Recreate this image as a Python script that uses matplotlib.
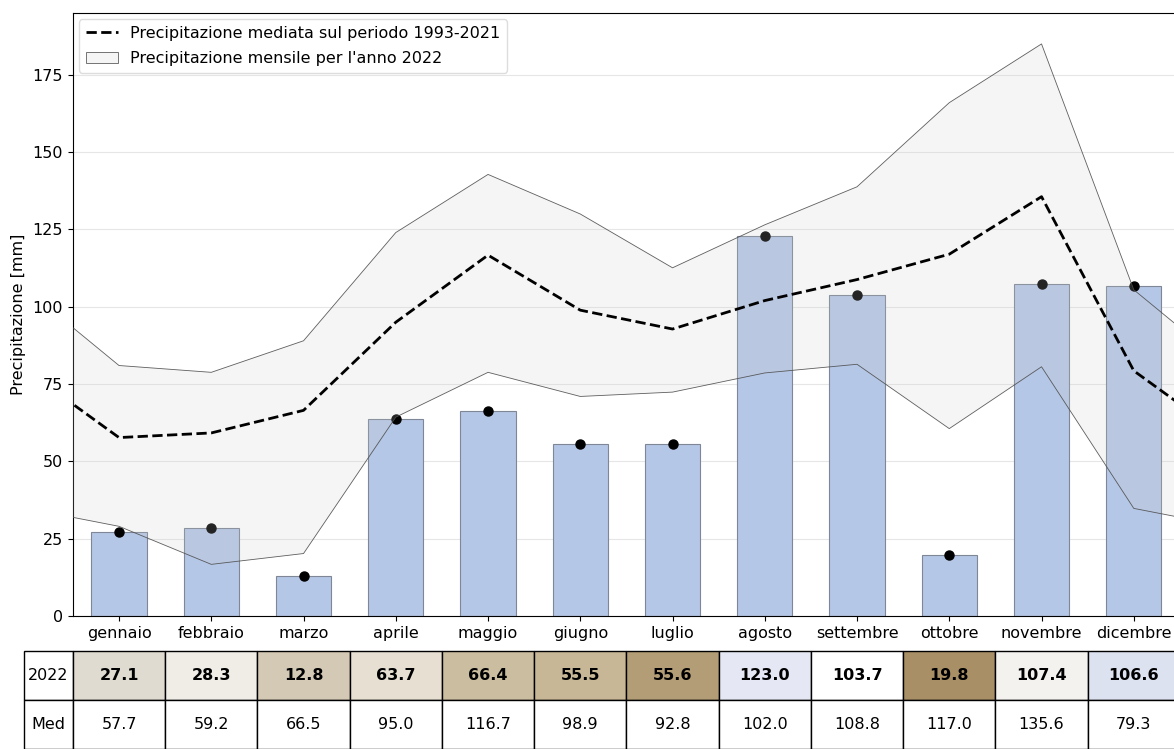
import matplotlib
matplotlib.use("Agg")
import matplotlib.pyplot as plt
from matplotlib.table import Table
import numpy as np

months = ["gennaio", "febbraio", "marzo", "aprile", "maggio", "giugno",
          "luglio", "agosto", "settembre", "ottobre", "novembre", "dicembre"]
prec_2022 = [27.1, 28.3, 12.8, 63.7, 66.4, 55.5, 55.6, 123.0, 103.7, 19.8, 107.4, 106.6]
prec_mean = [57.7, 59.2, 66.5, 95.0, 116.7, 98.9, 92.8, 102.0, 108.8, 117.0, 135.6, 79.3]
prec_upper = [81.0, 78.8, 89.0, 124.0, 142.8, 130.0, 112.6, 126.5, 138.8, 166.0, 185.0, 105.5]
prec_lower = [29.0, 16.7, 20.2, 64.3, 78.8, 71.0, 72.4, 78.6, 81.4, 60.6, 80.6, 34.8]
row_labels = ["2022", "Med"]
cell_colors_2022 = ["#e0dbd0", "#f0ede7", "#d4c9b5", "#e6dfd2", "#cbbd9f", "#c8b796",
                    "#b29d76", "#e5e8f4", "#ffffff", "#a98f66", "#f4f2ef", "#dde2f0"]

plt.rcParams["font.size"] = 11.5

x = np.arange(len(months))
# cyclic extension: December before January, January after December
xc = np.concatenate([[-1], x, [12]])
def wrap(v):
    v = np.asarray(v)
    return np.concatenate([[v[-1]], v, [v[0]]])

fig = plt.figure(figsize=(11.74, 7.49), dpi=100)
ax = fig.add_axes([72.9 / 1174, (749 - 616) / 749, 1107 / 1174, (616 - 13) / 749])

ax.yaxis.grid(True, color="#e6e6e6", lw=0.8)
ax.set_axisbelow(True)

ax.bar(x, prec_2022, width=0.6, color="#b5c7e6", edgecolor="#7f8796", lw=0.8, zorder=2)
ax.plot(x, prec_2022, "o", color="black", ms=6.5, zorder=3)
band = ax.fill_between(xc, wrap(prec_lower), wrap(prec_upper),
                       facecolor=(0.8, 0.8, 0.8, 0.18), edgecolor=(0.3, 0.3, 0.3, 0.9),
                       lw=0.6, zorder=4, label="Precipitazione mensile per l'anno 2022")
mline, = ax.plot(xc, wrap(prec_mean), "--", color="black", lw=2, zorder=5,
                 label="Precipitazione mediata sul periodo 1993-2021")

ax.set_xlim(-0.5, 11.5)
ax.set_ylim(0, 195)
ax.set_yticks([0, 25, 50, 75, 100, 125, 150, 175])
ax.set_xticks(x)
ax.set_xticklabels(months)
ax.tick_params(labelsize=11.5)
ax.set_ylabel("Precipitazione [mm]", fontsize=11.5)
ax.yaxis.set_label_coords(-0.042, 0.5)

leg = ax.legend(handles=[mline, band], loc="upper left", fontsize=11.5, frameon=True,
                framealpha=1, edgecolor="#dddddd", borderaxespad=0.4, labelspacing=0.65)

# table below the axes
rlw = 49 / 1107
cw = 1 / 12
rh = 0.1625 / 2
tab = Table(ax, bbox=[-rlw, -0.2206, 1 + rlw, 0.1625])
rows = [[f"{v:.1f}" for v in prec_2022], [f"{v:.1f}" for v in prec_mean]]
row_cols = [cell_colors_2022, ["#ffffff"] * 12]
for r in range(2):
    tab.add_cell(r, 0, width=rlw, height=rh, text=row_labels[r],
                 facecolor="white", loc="center")
    for c in range(12):
        cell = tab.add_cell(r, c + 1, width=cw, height=rh, text=rows[r][c],
                            facecolor=row_cols[r][c], loc="center")
        if r == 0:
            cell.get_text().set_fontweight("bold")
tab.auto_set_font_size(False)
tab.set_fontsize(11.5)
for cell in tab.get_celld().values():
    cell.set_linewidth(1.0)
    cell.set_edgecolor("black")
ax.add_table(tab)

fig.savefig("out.png", dpi=100)
